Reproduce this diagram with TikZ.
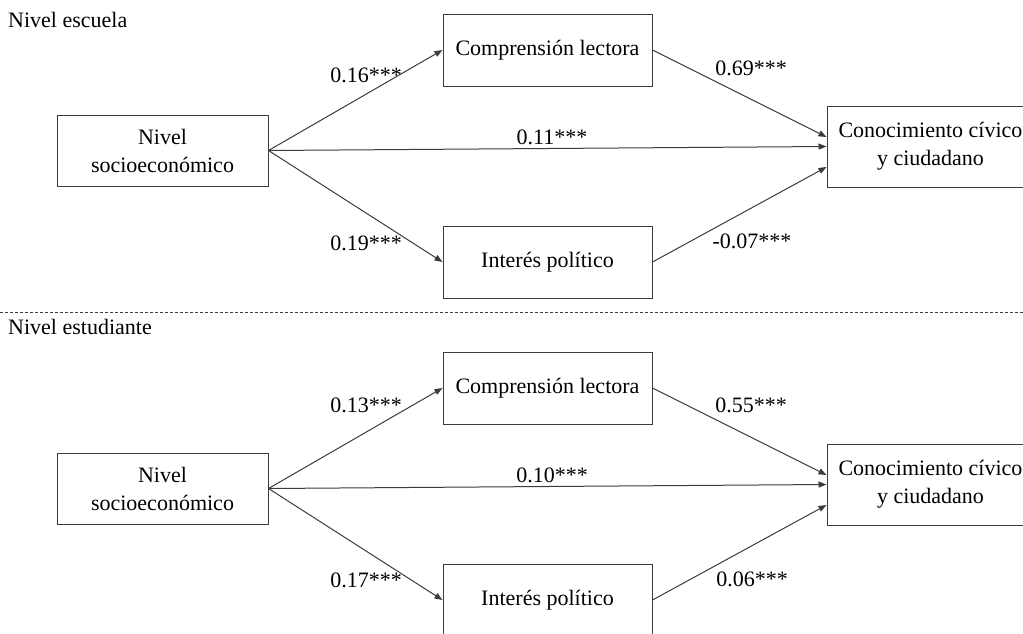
\documentclass[tikz,border=0pt]{standalone}
\usepackage{fontspec}
\setmainfont{Liberation Serif}
\usetikzlibrary{arrows.meta}
\definecolor{linegray}{HTML}{3C3C3C}
\tikzset{
  box/.style={draw=linegray, line width=1pt, rectangle, align=center, inner sep=0pt,
    font=\fontsize{22}{28}\selectfont},
  lbl/.style={inner sep=0pt, font=\fontsize{22}{26}\selectfont},
  ttl/.style={inner sep=0pt, anchor=west, font=\fontsize{22}{26}\selectfont},
  path/.style={draw=linegray, line width=1pt, -{Triangle[length=8pt,width=6pt]}},
}
\begin{document}
\begin{tikzpicture}[x=1pt,y=-1pt]
\useasboundingbox (0,0) rectangle (1023,633);
\clip (0,0) rectangle (1023,633);
\fill[white] (0,0) rectangle (1023,633);

% ---------- Nivel escuela ----------
\node[ttl] (t1) at (8,20) {Nivel escuela};
\node[box, minimum width=211pt, minimum height=71pt] (nivA) at (162.5,150.5) {Nivel\\socioeconómico};
\node[box, minimum width=209pt, minimum height=72pt] (compA) at (547.5,50) {Comprensión lectora};
\node[box, minimum width=209pt, minimum height=72pt] (intA) at (547.5,262) {Interés político};
\node[box, minimum width=207pt, minimum height=81pt] (conA) at (930.5,146.5) {Conocimiento cívico\\y ciudadano};

\draw[path] (nivA.east) -- (compA.west);
\draw[path] (nivA.east) -- (intA.west);
\draw[path] (nivA.east) -- (conA.west);
\draw[path] (compA.east) -- ([yshift=9.5pt]conA.west);
\draw[path] (intA.east) -- ([yshift=-20.5pt]conA.west);

\node[lbl] (a1) at (366,75) {0.16***};
\node[lbl] (a2) at (751,68) {0.69***};
\node[lbl] (a3) at (552,137) {0.11***};
\node[lbl] (a4) at (366,243) {0.19***};
\node[lbl] (a5) at (752,241) {-0.07***};

% ---------- separator ----------
\coordinate (sepL) at (0,312);
\coordinate (sepR) at (1023,312);
\draw[linegray, line width=1pt, dash pattern=on 3pt off 2pt] (sepL) -- (sepR);

% ---------- Nivel estudiante ----------
\node[ttl] (t2) at (8,327) {Nivel estudiante};
\node[box, minimum width=211pt, minimum height=71pt] (nivB) at (162.5,488.5) {Nivel\\socioeconómico};
\node[box, minimum width=209pt, minimum height=72pt] (compB) at (547.5,388) {Comprensión lectora};
\node[box, minimum width=209pt, minimum height=72pt] (intB) at (547.5,600) {Interés político};
\node[box, minimum width=207pt, minimum height=81pt] (conB) at (930.5,484.5) {Conocimiento cívico\\y ciudadano};

\draw[path] (nivB.east) -- (compB.west);
\draw[path] (nivB.east) -- (intB.west);
\draw[path] (nivB.east) -- (conB.west);
\draw[path] (compB.east) -- ([yshift=9.5pt]conB.west);
\draw[path] (intB.east) -- ([yshift=-20.5pt]conB.west);

\node[lbl] (b1) at (366,405) {0.13***};
\node[lbl] (b2) at (751,405) {0.55***};
\node[lbl] (b3) at (552,475) {0.10***};
\node[lbl] (b4) at (366,580) {0.17***};
\node[lbl] (b5) at (752,579) {0.06***};
\end{tikzpicture}
\end{document}
